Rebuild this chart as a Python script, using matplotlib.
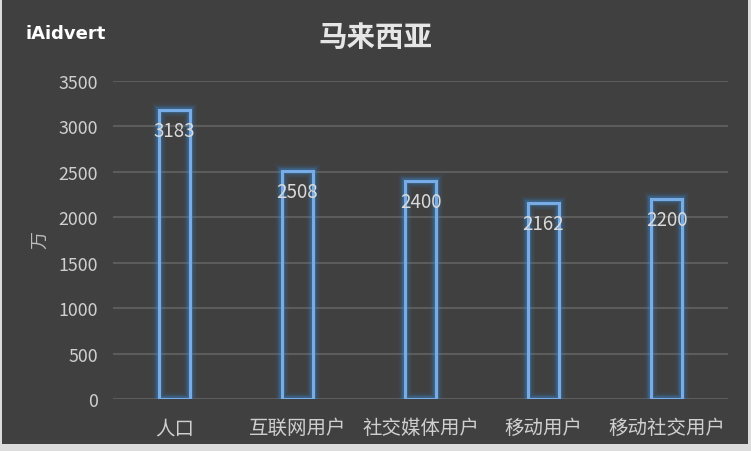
import matplotlib
matplotlib.use("Agg")
import matplotlib.pyplot as plt
from matplotlib.patches import Rectangle

plt.rcParams['font.family'] = ['Noto Sans CJK SC', 'DejaVu Sans']

categories = ["人口", "互联网用户", "社交媒体用户", "移动用户", "移动社交用户"]
values = [3183, 2508, 2400, 2162, 2200]
yticks = [0, 500, 1000, 1500, 2000, 2500, 3000, 3500]
title = "马来西亚"
ylabel = "万"

fig = plt.figure(figsize=(7.51, 4.52), dpi=100, facecolor="#dcdcdc")
bg = Rectangle((2/751, 7/452), 746/751, 444/452, transform=fig.transFigure,
               facecolor="#404040", edgecolor="none", zorder=-10)
fig.add_artist(bg)

ax = fig.add_axes([113/751, 1-400/452, 615/751, 318/452])
ax.set_zorder(5)
ax.set_facecolor("none")
for s in ax.spines.values():
    s.set_visible(False)

x = list(range(len(categories)))
w = 0.245
# glow layers
for lw, a in [(10, 0.05), (8, 0.08), (6, 0.12), (4, 0.25)]:
    ax.bar(x, values, width=w, facecolor="none", edgecolor="#3d8fe0", linewidth=lw, alpha=a, zorder=3)
ax.bar(x, values, width=w, facecolor="none", edgecolor="#78ace6", linewidth=2.2, zorder=4)

for xi, v in zip(x, values):
    ax.annotate(str(v), (xi, v), xytext=(0, -15), textcoords="offset points",
                ha="center", va="center", fontsize=13.5, color="#dadada", zorder=5)

ax.set_xlim(-0.5, len(categories) - 0.5)
ax.set_ylim(0, 3500)
ax.set_yticks(yticks)
ax.set_yticklabels([str(t) for t in yticks])
ax.set_xticks(x)
ax.set_xticklabels(categories)
ax.tick_params(axis="both", length=0, colors="#cfcfcf")
ax.tick_params(axis="y", pad=11, labelsize=12.8)
ax.tick_params(axis="x", pad=13, labelsize=14)
ax.grid(axis="y", color="#5c5c5c", linewidth=1.5, zorder=1)
ax.set_axisbelow(True)

fig.text(40/751, 1-240/452, ylabel, rotation=90, ha="center", va="center",
         fontsize=13, color="#bdbdbd")
fig.text(375/751, 1-38/452, title, ha="center", va="center", fontsize=20.5,
         color="#e6e6e6", fontweight="bold")
fig.text(25/751, 1-34/452, "iAidvert", ha="left", va="center", fontsize=13,
         color="#ffffff", fontweight="bold", family="DejaVu Sans")

fig.savefig("out.png", dpi=100, facecolor=fig.get_facecolor())
